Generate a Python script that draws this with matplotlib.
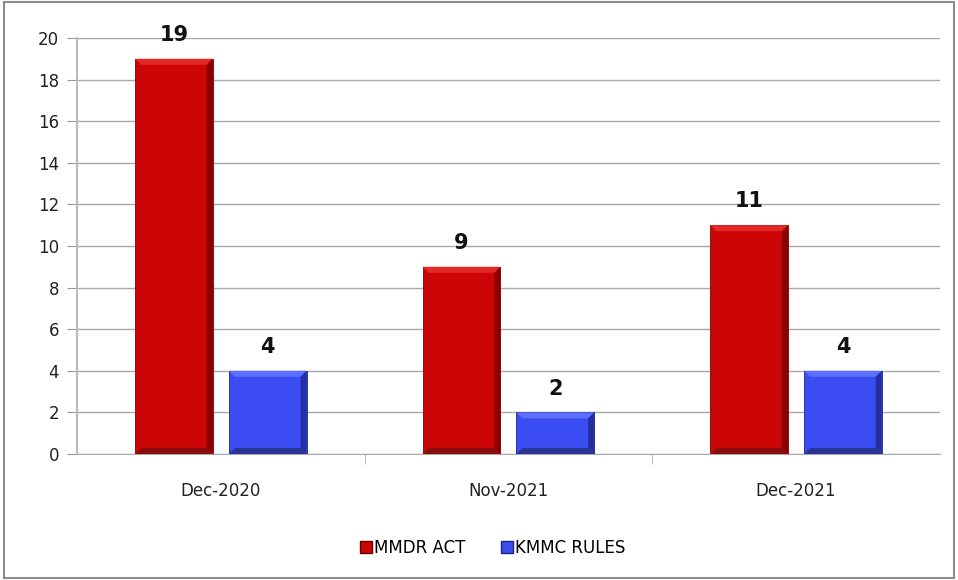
import matplotlib
matplotlib.use("Agg")
import matplotlib.pyplot as plt
from matplotlib.patches import Polygon, Rectangle
from matplotlib.transforms import IdentityTransform
from matplotlib.lines import Line2D
import numpy as np

categories = ["Dec-2020", "Nov-2021", "Dec-2021"]
mmdr_act = [19, 9, 11]
kmmc_rules = [4, 2, 4]
series_names = ["MMDR ACT", "KMMC RULES"]
yticks = [0, 2, 4, 6, 8, 10, 12, 14, 16, 18, 20]

red = "#CC0505"
blue = "#3A4CF2"

fig = plt.figure(figsize=(9.58, 5.80), dpi=100)
fig.patches.append(Rectangle((0.004, 0.004), 0.992, 0.992, transform=fig.transFigure,
                             fill=False, edgecolor="#8c8c8c", linewidth=1.5))
ax = fig.add_axes([0.0804, 0.2172, 0.9006, 0.7173])

x = np.arange(len(categories))
w = 0.27
off = 0.163
b1 = ax.bar(x - off, mmdr_act, w, color=red, edgecolor="#7a0000", linewidth=0.6, zorder=3)
b2 = ax.bar(x + off, kmmc_rules, w, color=blue, edgecolor="#1c2580", linewidth=0.6, zorder=3)

ax.set_xlim(-0.5, 2.5)
ax.set_ylim(0, 20)
ax.set_yticks(yticks)
ax.set_yticklabels([str(v) for v in yticks], fontsize=12, color="#222222")
ax.set_xticks(x)
ax.set_xticklabels(categories, fontsize=12, color="#222222")
ax.tick_params(axis="x", length=0, pad=20)
ax.tick_params(axis="y", length=7, color="#999999", pad=6)
ax.set_xticks([0.5, 1.5], minor=True)
ax.tick_params(axis="x", which="minor", length=7, color="#aaaaaa", direction="out")
ax.yaxis.grid(True, color="#a8a8a8", linewidth=1.0, zorder=0)
ax.set_axisbelow(True)
for s in ["top", "right"]:
    ax.spines[s].set_visible(False)
ax.spines["left"].set_color("#bbbbbb")
ax.spines["left"].set_linewidth(1.5)
ax.spines["bottom"].set_color("#aaaaaa")

# data labels
for bars, vals in [(b1, mmdr_act), (b2, kmmc_rules)]:
    for r, v in zip(bars, vals):
        ax.annotate(str(v), (r.get_x() + r.get_width() / 2, v), xytext=(0, 10),
                    textcoords="offset points", ha="center", va="bottom",
                    fontsize=15, fontweight="bold", color="#111111")

# bevel effect, derived from bar geometry
fig.canvas.draw()
def bevel(bars, light, dark, darker):
    for r in bars:
        bb = r.get_window_extent()
        x0, y0, x1, y1 = bb.x0, bb.y0, bb.x1, bb.y1
        d = 6
        top = Polygon([(x0, y1), (x1, y1), (x1 - d, y1 - d), (x0 + d, y1 - d)], closed=True,
                      transform=IdentityTransform(), facecolor=light, edgecolor="none", zorder=4)
        right = Polygon([(x1, y1), (x1, y0), (x1 - d, y0 + d), (x1 - d, y1 - d)], closed=True,
                        transform=IdentityTransform(), facecolor=dark, edgecolor="none", zorder=4)
        bottom = Polygon([(x0, y0), (x1, y0), (x1 - d, y0 + d), (x0 + d, y0 + d)], closed=True,
                         transform=IdentityTransform(), facecolor=darker, edgecolor="none", zorder=4)
        for p in (top, right, bottom):
            fig.artists.append(p)

bevel(b1, "#E42828", "#8a0000", "#8a0c0c")
bevel(b2, "#5E6EFF", "#232FA0", "#2a3496")

handles = [Line2D([], [], marker="s", linestyle="none", markersize=9, markerfacecolor=red,
                  markeredgecolor="#6a0000"),
           Line2D([], [], marker="s", linestyle="none", markersize=9, markerfacecolor=blue,
                  markeredgecolor="#1c2580")]
fig.legend(handles, series_names, loc="center", bbox_to_anchor=(0.513, 0.055), ncol=2,
           frameon=False, fontsize=12, handletextpad=0.0, columnspacing=2.0, handlelength=1.0)

fig.savefig("out.png", dpi=100)
